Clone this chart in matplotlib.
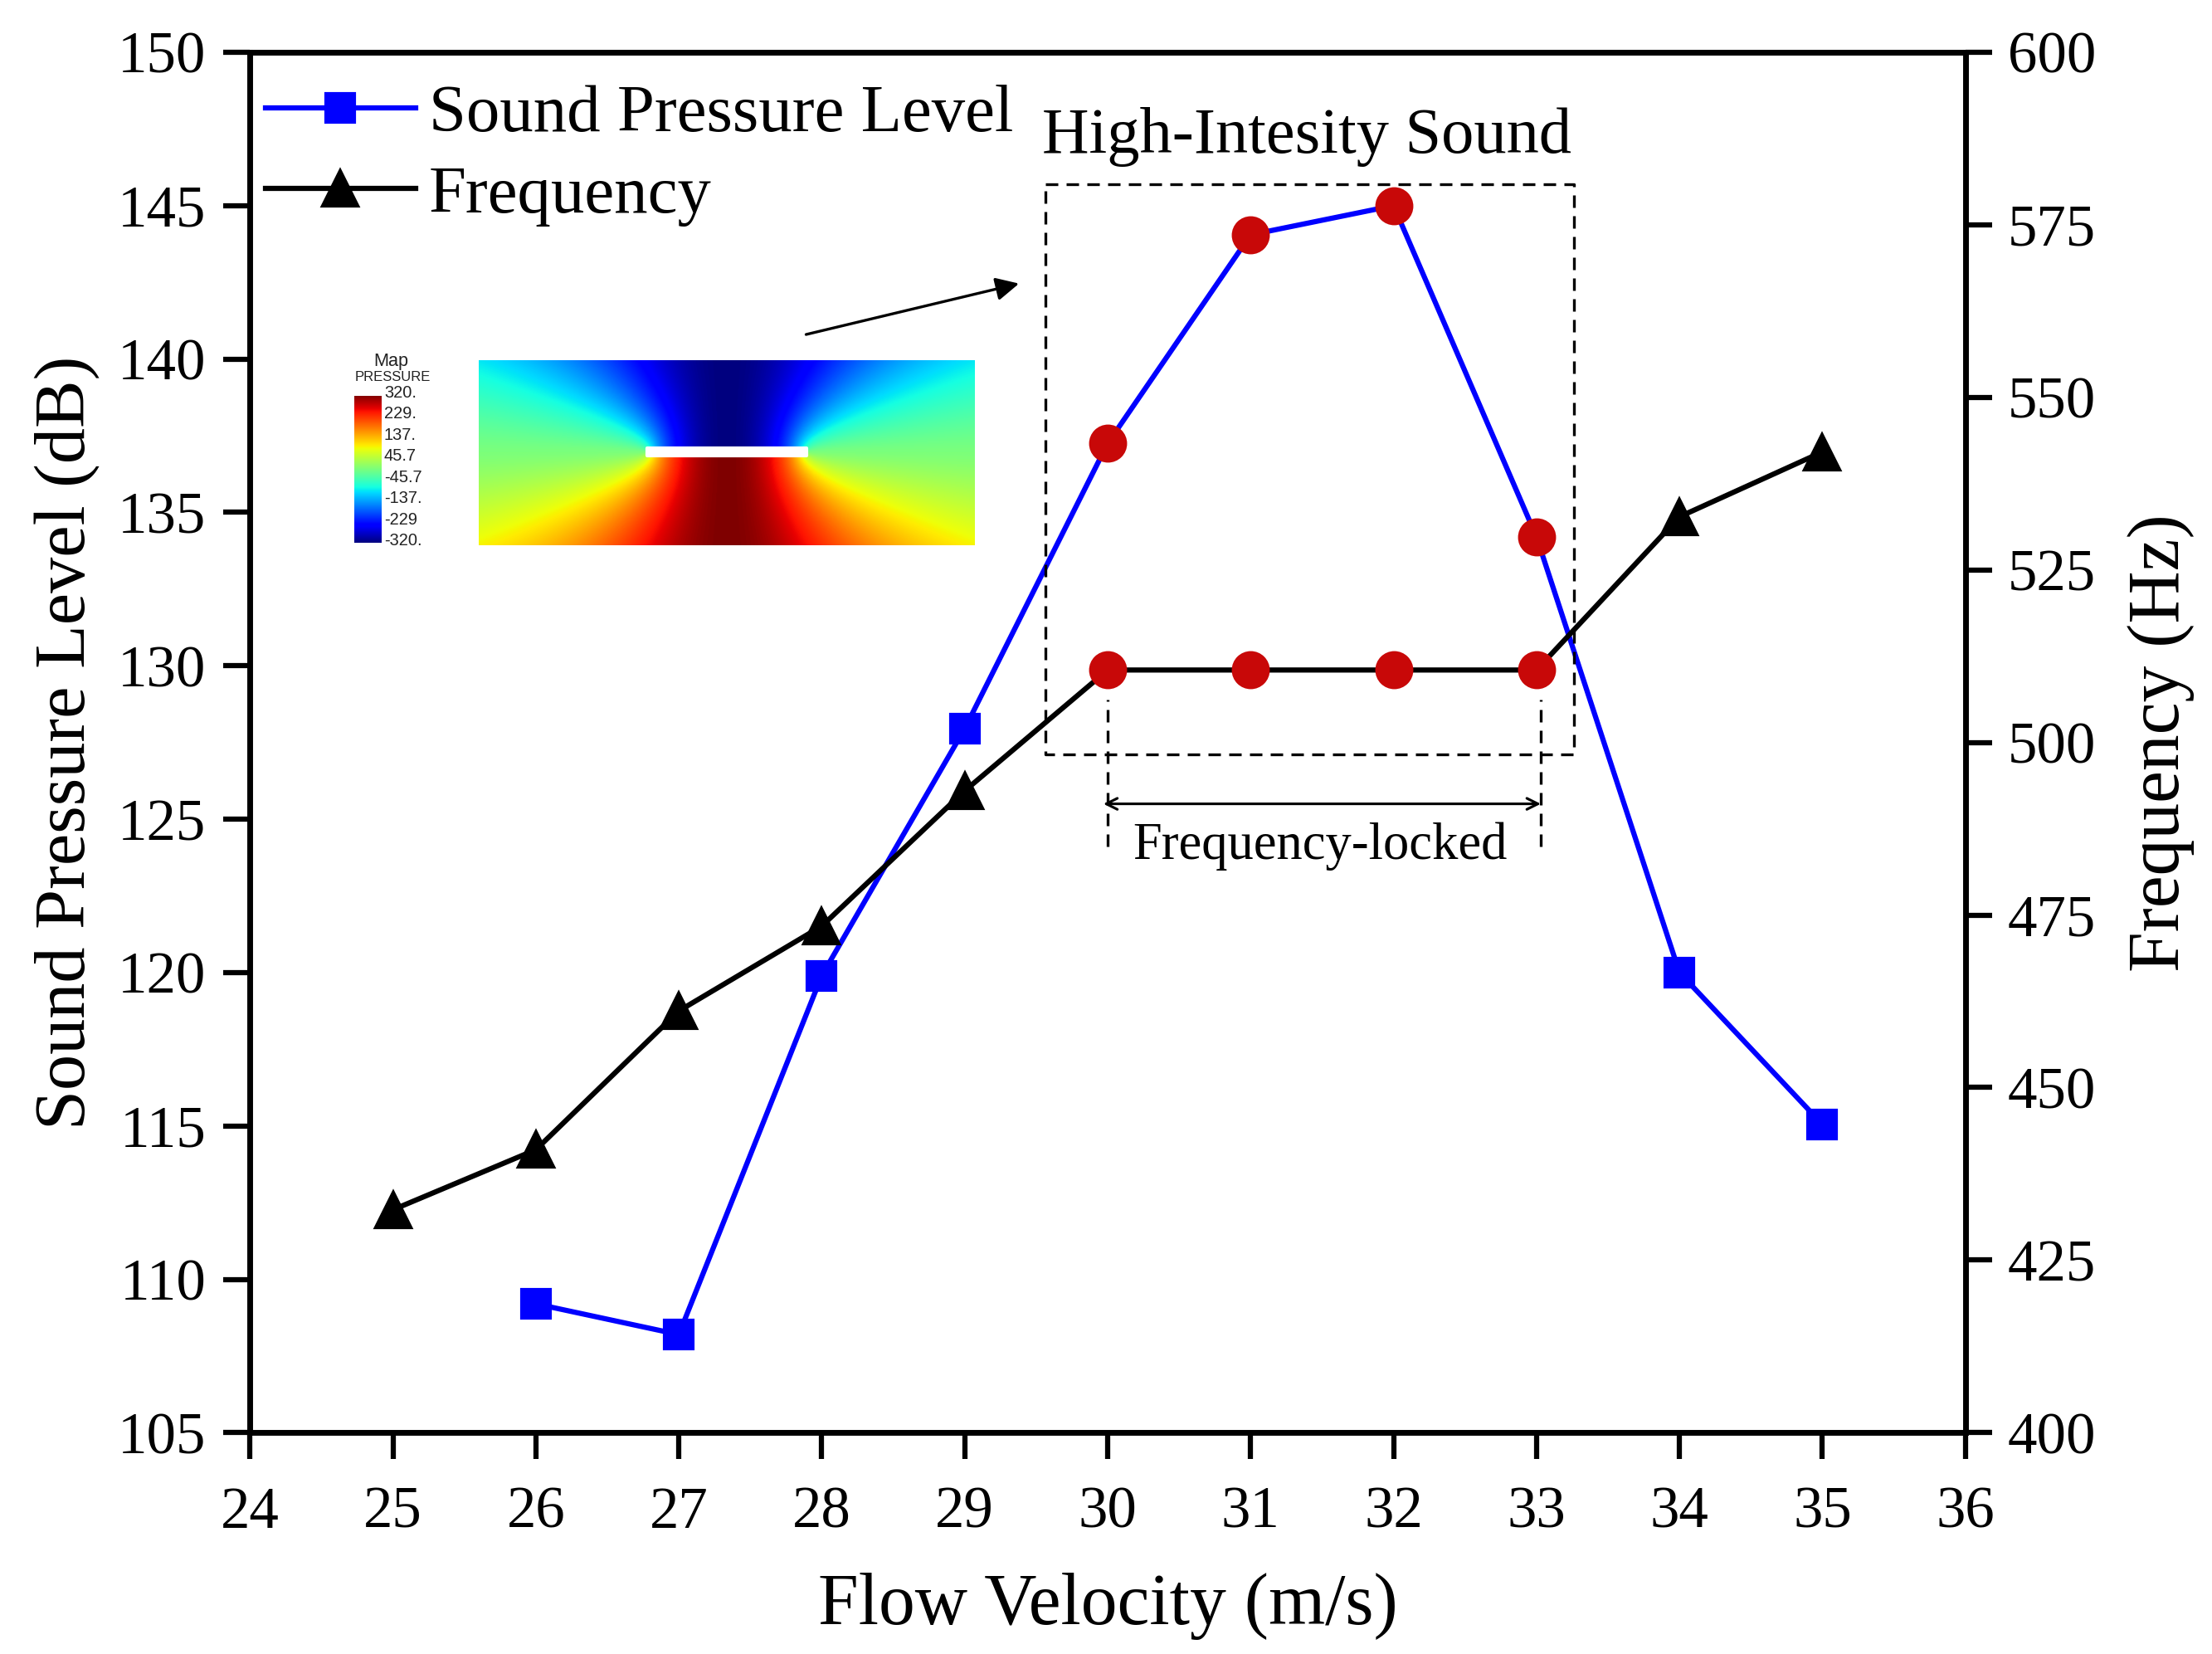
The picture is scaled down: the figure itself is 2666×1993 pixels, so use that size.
import numpy as np
import matplotlib
matplotlib.use('Agg')
import matplotlib.pyplot as plt

plt.rcParams['font.family'] = ['Liberation Serif', 'DejaVu Serif']

velocity_spl = [26, 27, 28, 29, 30, 31, 32, 33, 34, 35]
spl = [109.2, 108.2, 119.9, 127.95, 137.25, 144.05, 145.0, 134.2, 120.0, 115.05]
velocity_freq = [25, 26, 27, 28, 29, 30, 31, 32, 33, 34, 35]
freq = [432.3, 441.0, 461.1, 473.4, 493.0, 510.5, 510.5, 510.5, 510.5, 532.7, 542.1]

locked_v = [30, 31, 32, 33]
locked_spl = [137.25, 144.05, 145.0, 134.2]
locked_freq = [510.5, 510.5, 510.5, 510.5]

x_ticks = list(range(24, 37))
spl_ticks = list(range(105, 155, 5))
freq_ticks = list(range(400, 625, 25))
cbar_labels = ['320.', '229.', '137.', '45.7', '-45.7', '-137.', '-229', '-320.']

W, H = 2666, 1993
fig = plt.figure(figsize=(W / 300, H / 300), dpi=300)
ax = fig.add_axes([0.1130, 0.1338, 0.7755, 0.8346])
ax2 = ax.twinx()

# маркеры только там, где нет красных точек
spl_marks = [i for i, v in enumerate(velocity_spl) if v not in locked_v]
freq_marks = [i for i, v in enumerate(velocity_freq) if v not in locked_v]
l1, = ax.plot(velocity_spl, spl, color='#0000ff', lw=1.5, marker='s', ms=8.2, mec='#0000ff', markevery=spl_marks)
l2, = ax2.plot(velocity_freq, freq, color='black', lw=1.5, marker='^', ms=10, mec='black', markevery=freq_marks)
ax.plot(locked_v, locked_spl, ls='none', marker='o', ms=10, color='#c80808', zorder=5)
ax2.plot(locked_v, locked_freq, ls='none', marker='o', ms=10, color='#c80808', zorder=5)

ax.set_xlim(24, 36)
ax.set_ylim(105, 150)
ax2.set_ylim(400, 600)
ax.set_xticks(x_ticks)
ax.set_yticks(spl_ticks)
ax2.set_yticks(freq_ticks)
for a in (ax, ax2):
    a.tick_params(axis='both', direction='out', length=7.7, width=1.5, labelsize=17)
    for s in a.spines.values():
        s.set_linewidth(1.6)
ax.tick_params(axis='x', pad=7.7)
ax.tick_params(axis='y', pad=5)
ax2.tick_params(axis='y', pad=4.5)
ax.set_xlabel('Flow Velocity (m/s)', fontsize=21, labelpad=9.5)
ax.set_ylabel('Sound Pressure Level (dB)', fontsize=20.7, labelpad=5)
ax2.set_ylabel('Frequency (Hz)', fontsize=21, rotation=90, labelpad=9)

# дальше всё рисуем поверх второй оси
ax2.legend([l1, l2], ['Sound Pressure Level', 'Frequency'], loc='upper left', frameon=False,
           fontsize=19.4, handlelength=2.24, labelspacing=0.3, handletextpad=0.2,
           borderaxespad=0, borderpad=0, bbox_to_anchor=(0.009, 0.977))

dash = (0, (4.5, 3))
box_x = [29.565, 33.26, 33.26, 29.565, 29.565]
box_y = [145.7, 145.7, 127.1, 127.1, 145.7]
ax.plot(box_x, box_y, color='black', lw=0.8, ls=dash, zorder=4)
ax.plot([30, 30], [124.1, 128.9], color='black', lw=0.8, ls=dash, zorder=4)
ax.plot([33.03, 33.03], [124.1, 128.9], color='black', lw=0.8, ls=dash, zorder=4)
ax.annotate('', xy=(29.97, 125.5), xytext=(33.03, 125.5),
            arrowprops=dict(arrowstyle='<->', lw=0.75, color='black', shrinkA=0, shrinkB=0,
                            mutation_scale=8))
ax.text(31.485, 124.12, 'Frequency-locked', fontsize=15, ha='center', va='center')
ax.text(29.54, 147.25, 'High-Intesity Sound', fontsize=18.8, ha='left', va='center')
ax.annotate('', xy=(29.38, 142.46), xytext=(27.89, 140.8),
            arrowprops=dict(arrowstyle='-|>', lw=0.8, color='black', shrinkA=0, shrinkB=0,
                            mutation_scale=14, fc='black'))

# картинка-вставка с полем давления (ось без рамки)
sc = 1.7022
def fig_axes(x0, y0, x1, y1):
    return fig.add_axes([x0 * sc / W, 1 - y1 * sc / H, (x1 - x0) * sc / W, (y1 - y0) * sc / H])

inset = fig_axes(339, 255, 690, 386)
xx, yy = np.meshgrid(np.linspace(-175.5, 175.5, 702), np.linspace(65, -66, 262))
a = 56.5
r1 = np.hypot(xx + a, yy)
r2 = np.hypot(xx - a, yy)
sin_nu = np.sqrt(np.clip(1 - ((r1 - r2) / (2 * a)) ** 2, 0, 1))
field = 0.5 - 0.5 * sin_nu ** 1.2 * np.sign(yy + 0.01)
inset.imshow(field, cmap='jet', vmin=0, vmax=1, extent=(-175.5, 175.5, -66, 65), aspect='auto',
             interpolation='bilinear')
inset.fill_between([-a, a], -2.8, 2.8, color='white')
inset.axis('off')

cbar = fig_axes(251, 280, 270, 384)
cbar.imshow(np.linspace(1, 0, 256).reshape(-1, 1), cmap='jet', aspect='auto')
cbar.axis('off')
for lab, yp in zip(cbar_labels, np.linspace(278, 383, 8)):
    fig.text(272 * sc / W, 1 - yp * sc / H, lab, fontsize=4.8, family='Liberation Sans', va='center', color='#222222')
fig.text(277 * sc / W, 1 - 256 * sc / H, 'Map', fontsize=5.2, family='Liberation Sans', ha='center', va='center', color='#222222')
fig.text(278 * sc / W, 1 - 267 * sc / H, 'PRESSURE', fontsize=4, family='Liberation Sans', ha='center', va='center', color='#222222')

fig.savefig('out.png', dpi=300)
